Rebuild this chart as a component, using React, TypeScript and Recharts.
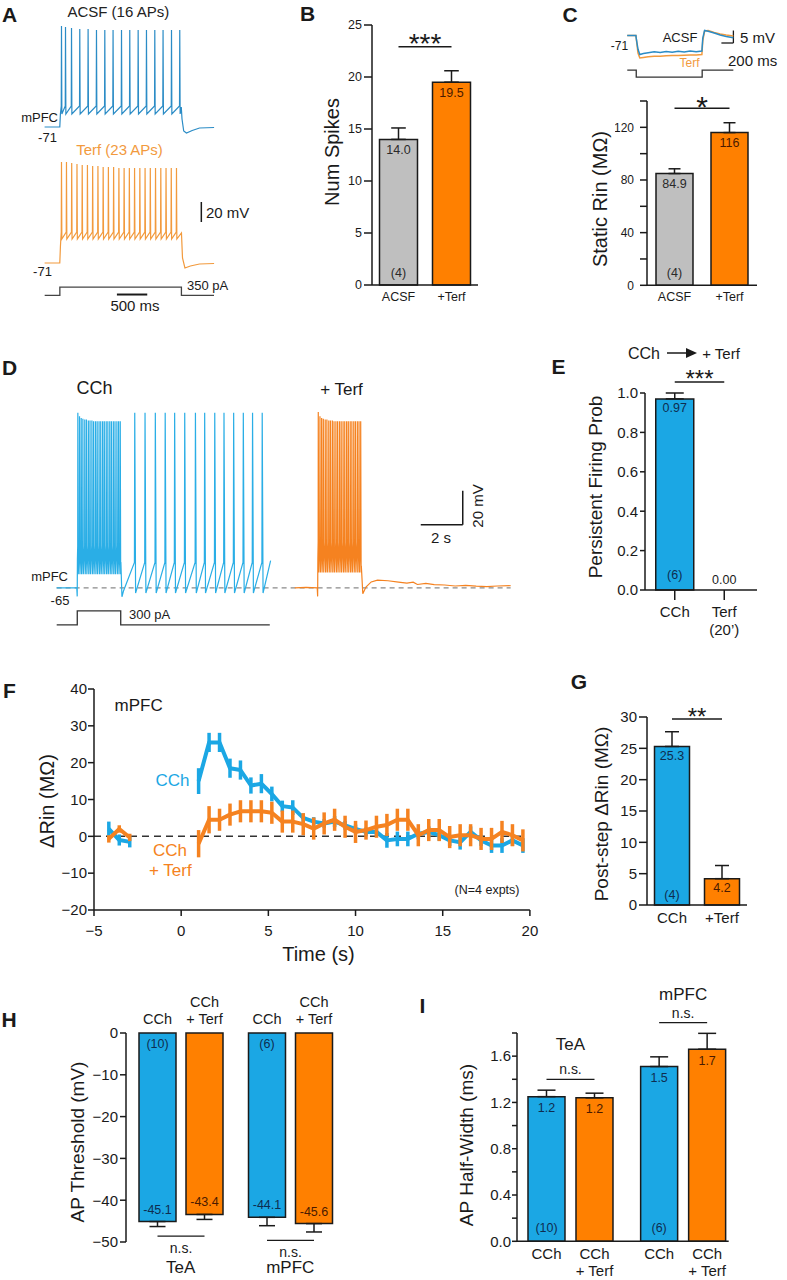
import React from 'react';
import { BarChart, Bar, LineChart, Line, XAxis, YAxis, ErrorBar, Cell, LabelList, ReferenceLine, ReferenceDot } from 'recharts';

const FONT = 'Arial, "Liberation Sans", Helvetica, sans-serif';
const INK = '#1a1a1a';
const GRAY = '#bfbfbf';
const ORANGE = '#ff8000';
const BLUE = '#1ba7e4';
const A_BLUE = '#2b8cc6';
const A_ORANGE = '#f29a3d';
const D_BLUE = '#2aaee6';
const D_ORANGE = '#f58220';
const TXT_BLUE = '#0e2d50';
const TXT_ORANGE = '#4a1a00';
const TXT_GRAY = '#2a2a2a';

// ---------------- Panel A data ----------------
const A_BLUE_SPIKES = [28, 94, 193, 329, 466, 604, 741, 877, 1016, 1152, 1290, 1427, 1564, 1700, 1839, 1975];
const A_BLUE_PEAKS = [30, 29, 28, 27, 27, 26, 26, 26, 26, 26, 26, 26, 26, 26, 26, 26];
const A_ORANGE_SPIKES = [28, 110, 196, 283, 369, 455, 541, 628, 714, 800, 886, 973, 1059, 1145, 1231, 1318, 1404, 1490, 1576, 1663, 1749, 1835, 1921];
const A_ORANGE_PEAKS = [30, 30, 29, 28, 27, 27, 26, 26, 25, 25, 25, 24, 24, 24, 24, 24, 24, 24, 24, 24, 24, 24, 24];
const A_BLUE_PRE = [{ t: -250, v: -71 }, { t: 0, v: -71 }, { t: 10, v: -58 }];
const A_BLUE_POST = [{ t: 2000, v: -51 }, { t: 2012, v: -63 }, { t: 2040, v: -75 }, { t: 2085, v: -77 }, { t: 2180, v: -74.5 }, { t: 2300, v: -72 }, { t: 2540, v: -71.5 }];
const A_ORANGE_PRE = [{ t: -250, v: -71 }, { t: 0, v: -71 }, { t: 10, v: -55 }];
const A_ORANGE_POST = [{ t: 2003, v: -41 }, { t: 2020, v: -66 }, { t: 2060, v: -76 }, { t: 2150, v: -74 }, { t: 2300, v: -72 }, { t: 2540, v: -71.5 }];
const A_CURRENT = [{ t: -250, i: 0 }, { t: 0, i: 0 }, { t: 0, i: 350 }, { t: 2003, i: 350 }, { t: 2003, i: 0 }, { t: 2540, i: 0 }];

// ---------------- Panel B data ----------------
const B_CATS = ['ACSF', '+Terf'];
const B_VALS = [14.0, 19.5];
const B_ERRS = [1.1, 1.1];
const B_LABELS = ['14.0', '19.5'];
const B_N = ['(4)', null];
const B_SIG = 22.9;

// ---------------- Panel C data ----------------
const C_CATS = ['ACSF', '+Terf'];
const C_VALS = [84.9, 116];
const C_ERRS = [3.6, 7.5];
const C_LABELS = ['84.9', '116'];
const C_N = ['(4)', null];
const C_SIG = 134.4;
const C_BLUE = [{ t: -150, v: -71 }, { t: -5, v: -71 }, { t: 0, v: -72 }, { t: 30, v: -76.5 }, { t: 60, v: -78.6 }, { t: 120, v: -78.2 }, { t: 200, v: -77.9 }, { t: 300, v: -77.5 }, { t: 400, v: -77.8 }, { t: 500, v: -77.4 }, { t: 600, v: -77.7 }, { t: 700, v: -77.3 }, { t: 800, v: -77.6 }, { t: 900, v: -77.2 }, { t: 1000, v: -77.5 }, { t: 1095, v: -77.2 }, { t: 1110, v: -72 }, { t: 1140, v: -69 }, { t: 1200, v: -69.3 }, { t: 1300, v: -70 }, { t: 1400, v: -70.8 }, { t: 1500, v: -71.4 }, { t: 1620, v: -71.9 }];
const C_ORANGE = [{ t: -150, v: -71 }, { t: -5, v: -71 }, { t: 0, v: -72 }, { t: 30, v: -78 }, { t: 60, v: -80 }, { t: 120, v: -79.8 }, { t: 200, v: -79.5 }, { t: 300, v: -79.3 }, { t: 400, v: -79.3 }, { t: 500, v: -79.1 }, { t: 600, v: -79.0 }, { t: 700, v: -79.0 }, { t: 800, v: -78.9 }, { t: 900, v: -78.8 }, { t: 1000, v: -78.8 }, { t: 1095, v: -78.6 }, { t: 1110, v: -73 }, { t: 1140, v: -69.2 }, { t: 1200, v: -69 }, { t: 1300, v: -69.8 }, { t: 1400, v: -70.4 }, { t: 1500, v: -70.8 }, { t: 1620, v: -71.2 }];
const C_CURRENT = [{ t: -150, i: 0 }, { t: 0, i: 0 }, { t: 0, i: -100 }, { t: 1100, i: -100 }, { t: 1100, i: 0 }, { t: 1620, i: 0 }];

// ---------------- Panel D data ----------------
const D_BLUE_PRE = [{ t: -0.98, v: -65 }, { t: -0.02, v: -65 }, { t: 0, v: -70 }, { t: 0.01, v: -48 }];
const D_BLUE_BURST = [0.03, 0.11, 0.19, 0.27, 0.36, 0.44, 0.53, 0.61, 0.70, 0.78, 0.87, 0.95, 1.04, 1.12, 1.21, 1.29, 1.38, 1.46, 1.55, 1.63, 1.72, 1.80, 1.89, 1.97, 2.05];
const D_BURST_PEAKS = [38, 36, 35, 34.5, 34, 34, 33.5, 33.5, 33.5, 33, 33, 33, 33, 33, 33, 33, 33, 33, 33, 33, 33, 33, 33, 33, 33];
const D_BLUE_MID = [{ t: 2.08, v: -50 }, { t: 2.13, v: -70.2 }, { t: 2.2, v: -67 }];
const D_BLUE_PERSIST = [2.74, 3.23, 3.72, 4.19, 4.64, 5.12, 5.63, 6.07, 6.55, 6.99, 7.45, 7.91, 8.35, 8.81];
const D_PERSIST_PEAKS = [38, 38, 38, 38, 38, 38, 38, 38, 38, 38, 38, 38, 38, 38];
const D_BLUE_END = [{ t: 9.21, v: -49 }];
const D_ORANGE_PRE = [{ t: 10.36, v: -65 }, { t: 10.9, v: -64.7 }, { t: 11.43, v: -65 }, { t: 11.45, v: -70 }, { t: 11.46, v: -48 }];
const D_ORANGE_BURST = [11.48, 11.56, 11.64, 11.72, 11.81, 11.89, 11.98, 12.06, 12.15, 12.23, 12.32, 12.40, 12.49, 12.57, 12.66, 12.74, 12.83, 12.91, 13.00, 13.08, 13.17, 13.25, 13.34, 13.42, 13.50];
const D_ORANGE_PEAKS = [38.5, 36, 35, 34.5, 34, 34, 33.5, 33.5, 33.5, 33, 33, 33, 33, 33, 33, 33, 33, 33, 33, 33, 33, 33, 33, 33, 33];
const D_ORANGE_POST = [{ t: 13.53, v: -52 }, { t: 13.6, v: -68.5 }, { t: 13.75, v: -64.5 }, { t: 14.0, v: -61.5 }, { t: 14.3, v: -60.4 }, { t: 14.8, v: -60.8 }, { t: 15.3, v: -61.6 }, { t: 15.7, v: -62.2 }, { t: 16.0, v: -61.6 }, { t: 16.2, v: -63 }, { t: 16.6, v: -62.4 }, { t: 17.0, v: -63.1 }, { t: 17.5, v: -63.3 }, { t: 18.0, v: -63.9 }, { t: 18.5, v: -63.5 }, { t: 19.0, v: -64 }, { t: 19.5, v: -64.3 }, { t: 20.0, v: -63.9 }, { t: 20.64, v: -63.7 }];
const D_CURRENT = [{ t: -0.98, i: 0 }, { t: 0, i: 0 }, { t: 0, i: 300 }, { t: 2.07, i: 300 }, { t: 2.07, i: 0 }, { t: 9.17, i: 0 }];

// ---------------- Panel E data ----------------
const E_CATS = ['CCh', 'Terf'];
const E_TICK_LABELS = [['CCh'], ['Terf', '(20\u2019)']];
const E_VALS = [0.97, 0];
const E_ERRS = [0.03, 0];
const E_LABELS = ['0.97', '0.00'];
const E_N = ['(6)', null];
const E_SIG = 1.056;

// ---------------- Panel F data ----------------
const F_T_PRE = [-4.15, -3.55, -2.95];
const F_BLUE_PRE = [2, -1, -1.5];
const F_BLUE_PRE_ERR = [2, 1.5, 1.5];
const F_ORANGE_PRE = [-0.7, 2, -0.3];
const F_ORANGE_PRE_ERR = [1, 1, 1];
const F_T = [1.0, 1.6, 2.2, 2.8, 3.4, 4.0, 4.6, 5.2, 5.8, 6.4, 7.0, 7.6, 8.2, 8.8, 9.4, 10.0, 10.6, 11.2, 11.8, 12.4, 13.0, 13.6, 14.2, 14.8, 15.4, 16.0, 16.6, 17.2, 17.8, 18.4, 19.0, 19.6];
const F_BLUE = [15, 25.5, 25.5, 18.5, 18, 13.8, 14.3, 11.5, 8.2, 7.8, 5, 4, 3.5, 4, 3, 2, 1.2, 1.2, -1.1, -0.7, -0.7, 0.7, 1.2, 0.3, -1.1, -1.6, 1.2, -1.1, -2.5, -2.5, -1.1, -2.5];
const F_BLUE_ERR = [3.5, 2.6, 2.6, 2.6, 2.6, 2.2, 2.6, 2, 1.5, 2, 1.2, 1.2, 1.2, 1.5, 1.2, 1.2, 1.2, 1.2, 2, 2, 2, 1.5, 1.5, 1.5, 1.5, 2, 1.5, 1.5, 2, 2, 1.5, 2];
const F_ORANGE = [-2, 4.5, 4.5, 5.9, 6.8, 6.8, 6.8, 6.4, 4, 4, 3.3, 2.1, 3.5, 4.5, 2.6, 1.2, 1.7, 2.6, 3.1, 4.5, 4.5, 0.3, 1.7, 1.7, -0.2, 0.3, 0.3, -0.7, -0.7, 1.2, 0.3, -1.1];
const F_ORANGE_ERR = [3.7, 3.7, 3, 3, 3, 3, 3, 3, 3, 3, 3, 3, 3, 3, 3, 3, 2.6, 3, 3, 3, 3, 3, 3, 3, 3, 3, 3, 3, 3, 3, 3, 3];

// ---------------- Panel G data ----------------
const G_CATS = ['CCh', '+Terf'];
const G_VALS = [25.3, 4.2];
const G_ERRS = [2.35, 2.1];
const G_LABELS = ['25.3', '4.2'];
const G_N = ['(4)', null];
const G_SIG = 29.7;

// ---------------- Panel H data ----------------
const H_GROUPS = ['TeA', 'mPFC'];
const H_CCH = [-45.1, -44.1];
const H_CCH_ERR = [1.2, 2.0];
const H_TERF = [-43.4, -45.6];
const H_TERF_ERR = [1.2, 2.0];
const H_CCH_LABELS = ['-45.1', '-44.1'];
const H_TERF_LABELS = ['-43.4', '-45.6'];
const H_N = ['(10)', '(6)'];
const H_SIG = [-48.6, -49.6];

// ---------------- Panel I data ----------------
const I_GROUPS = ['TeA', 'mPFC'];
const I_CCH = [1.25, 1.51];
const I_CCH_ERR = [0.056, 0.084];
const I_TERF = [1.24, 1.66];
const I_TERF_ERR = [0.04, 0.137];
const I_CCH_LABELS = ['1.2', '1.5'];
const I_TERF_LABELS = ['1.2', '1.7'];
const I_N = ['(10)', '(6)'];
const I_SIG = [1.40, 1.89];
const I_GROUP_LABEL_Y = [1.70, 2.13];
const I_TICKS = [0, 0.2, 0.4, 0.6, 0.8, 1.0, 1.2, 1.4, 1.6, 1.8];

const CAT_CCH = 'CCh';
const CAT_TERF = ['CCh', '+ Terf'];
const NS = 'n.s.';

// ---------------- helpers ----------------
type Pt = { t: number; v: number };
function spikeTrain(times: number[], peaks: number[], thr: number, ahp: number, rise: number, fall: number): Pt[] {
  const pts: Pt[] = [];
  times.forEach((t, k) => {
    pts.push({ t: t - rise, v: thr });
    pts.push({ t, v: peaks[k] });
    pts.push({ t: t + fall, v: ahp });
  });
  return pts;
}

const aBlue = [...A_BLUE_PRE, ...spikeTrain(A_BLUE_SPIKES, A_BLUE_PEAKS, -50, -58, 4, 6), ...A_BLUE_POST];
const aOrange = [...A_ORANGE_PRE, ...spikeTrain(A_ORANGE_SPIKES, A_ORANGE_PEAKS, -40, -47, 4, 6), ...A_ORANGE_POST];
const dBlue = [...D_BLUE_PRE, ...spikeTrain(D_BLUE_BURST, D_BURST_PEAKS, -40, -57, 0.006, 0.02), ...D_BLUE_MID, ...spikeTrain(D_BLUE_PERSIST, D_PERSIST_PEAKS, -50, -68, 0.015, 0.04), ...D_BLUE_END];
const dOrange = [...D_ORANGE_PRE, ...spikeTrain(D_ORANGE_BURST, D_ORANGE_PEAKS, -38, -56, 0.006, 0.02), ...D_ORANGE_POST];

const bData = B_CATS.map((name, k) => ({ name, v: B_VALS[k], err: [0, B_ERRS[k]] }));
const cData = C_CATS.map((name, k) => ({ name, v: C_VALS[k], err: [0, C_ERRS[k]] }));
const eData = E_CATS.map((name, k) => ({ name, v: E_VALS[k], err: [0, E_ERRS[k]] }));
const gData = G_CATS.map((name, k) => ({ name, v: G_VALS[k], err: [0, G_ERRS[k]] }));
const hData = H_GROUPS.map((group, k) => ({ group, cch: H_CCH[k], cchErr: [H_CCH_ERR[k], 0], terf: H_TERF[k], terfErr: [H_TERF_ERR[k], 0] }));
const iData = I_GROUPS.map((group, k) => ({ group, cch: I_CCH[k], cchErr: [0, I_CCH_ERR[k]], terf: I_TERF[k], terfErr: [0, I_TERF_ERR[k]] }));
const fBluePre = F_T_PRE.map((t, k) => ({ t, v: F_BLUE_PRE[k], e: F_BLUE_PRE_ERR[k] }));
const fOrangePre = F_T_PRE.map((t, k) => ({ t, v: F_ORANGE_PRE[k], e: F_ORANGE_PRE_ERR[k] }));
const fBlue = F_T.map((t, k) => ({ t, v: F_BLUE[k], e: F_BLUE_ERR[k] }));
const fOrange = F_T.map((t, k) => ({ t, v: F_ORANGE[k], e: F_ORANGE_ERR[k] }));

const axisLine = { stroke: INK, strokeWidth: 1.5 };
const minus = (v: number) => (v < 0 ? '\u2212' + Math.abs(v) : String(v));
const M0 = { top: 0, right: 0, bottom: 0, left: 0 };

function Pos({ x, y, children }: any) {
  return <div style={{ position: 'absolute', left: x, top: y }}>{children}</div>;
}

const T = ({ x, y, s = 15, a = 'middle', c = INK, w = 400, r = 0, children }: any) => (
  <text x={x} y={y} fontSize={s} textAnchor={a} fill={c} fontWeight={w} dominantBaseline="central"
    transform={r ? `rotate(${r} ${x} ${y})` : undefined}>{children}</text>
);

function geom(props: any, vals: number[]) {
  const vb = props.viewBox && props.viewBox.width != null ? props.viewBox : props;
  let k = props.index;
  if (k == null) k = vals.indexOf(props.value);
  const { x, y, width, height } = vb;
  if (x == null || k == null || k < 0) return null;
  const top = Math.min(y, y + height);
  const bot = Math.max(y, y + height);
  const neg = vals[k] < 0;
  const zero = neg ? top : bot;
  const ppu = vals[k] !== 0 ? Math.abs(height) / Math.abs(vals[k]) : 0;
  return { k, x, width, top, bot, neg, zero, ppu, cx: x + width / 2 };
}

function barLabels(vals: number[], labels: (string | null)[], ns: (string | null)[], colors: string[], vOff: number, nOff: number, size = 12.5) {
  return (props: any) => {
    const g = geom(props, vals);
    if (!g) return null;
    const { k, top, bot, neg, cx } = g;
    if (vals[k] === 0) return null;
    let vy: number, ny: number;
    if (neg) { vy = bot - vOff; ny = top + nOff; }
    else { vy = top + vOff; ny = bot - nOff; }
    return (
      <g>
        {labels[k] && <text x={cx} y={vy} textAnchor="middle" dominantBaseline="central" fontSize={size} fill={colors[k]}>{labels[k]}</text>}
        {ns[k] && <text x={cx} y={ny} textAnchor="middle" dominantBaseline="central" fontSize={size} fill={colors[k]}>{ns[k]}</text>}
      </g>
    );
  };
}

const H_GAP = 10;
const I_GAP = 11;

const hCchContent = (props: any) => {
  const g = geom(props, H_CCH);
  if (!g) return null;
  const { k, top, bot, cx, width, zero, ppu } = g;
  const sy = zero - H_SIG[k] * ppu;
  const cx2 = cx + width + H_GAP;
  return (
    <g>
      <text x={cx} y={bot - 12} textAnchor="middle" dominantBaseline="central" fontSize={12.5} fill={TXT_BLUE}>{H_CCH_LABELS[k]}</text>
      <text x={cx} y={top + 10.5} textAnchor="middle" dominantBaseline="central" fontSize={12.5} fill={TXT_BLUE}>{H_N[k]}</text>
      <text x={cx} y={top - 14} textAnchor="middle" dominantBaseline="central" fontSize={14.5} fill={INK}>{CAT_CCH}</text>
      <line x1={cx} x2={cx2} y1={sy} y2={sy} stroke={INK} strokeWidth={1.3} />
      <text x={(cx + cx2) / 2} y={sy + 12} textAnchor="middle" dominantBaseline="central" fontSize={14} fill={INK}>{NS}</text>
    </g>
  );
};
const hTerfContent = (props: any) => {
  const g = geom(props, H_TERF);
  if (!g) return null;
  const { k, top, bot, cx } = g;
  return (
    <g>
      <text x={cx} y={bot - 12} textAnchor="middle" dominantBaseline="central" fontSize={12.5} fill={TXT_ORANGE}>{H_TERF_LABELS[k]}</text>
      <text x={cx} y={top - 31} textAnchor="middle" dominantBaseline="central" fontSize={14.5} fill={INK}>{CAT_TERF[0]}</text>
      <text x={cx} y={top - 14} textAnchor="middle" dominantBaseline="central" fontSize={14.5} fill={INK}>{CAT_TERF[1]}</text>
    </g>
  );
};
const iCchContent = (props: any) => {
  const g = geom(props, I_CCH);
  if (!g) return null;
  const { k, top, bot, cx, width, zero, ppu } = g;
  const sy = zero - I_SIG[k] * ppu;
  const gy = zero - I_GROUP_LABEL_Y[k] * ppu;
  const cx2 = cx + width + I_GAP;
  return (
    <g>
      <text x={cx} y={top + 11.5} textAnchor="middle" dominantBaseline="central" fontSize={12.5} fill={TXT_BLUE}>{I_CCH_LABELS[k]}</text>
      <text x={cx} y={bot - 13} textAnchor="middle" dominantBaseline="central" fontSize={12.5} fill={TXT_BLUE}>{I_N[k]}</text>
      <text x={cx} y={bot + 12} textAnchor="middle" dominantBaseline="central" fontSize={15} fill={INK}>{CAT_CCH}</text>
      <line x1={cx} x2={cx2} y1={sy} y2={sy} stroke={INK} strokeWidth={1.3} />
      <text x={(cx + cx2) / 2} y={sy - 10} textAnchor="middle" dominantBaseline="central" fontSize={14} fill={INK}>{NS}</text>
      <text x={(cx + cx2) / 2} y={gy} textAnchor="middle" dominantBaseline="central" fontSize={17} fill={INK}>{I_GROUPS[k]}</text>
    </g>
  );
};
const iTerfContent = (props: any) => {
  const g = geom(props, I_TERF);
  if (!g) return null;
  const { k, top, bot, cx } = g;
  return (
    <g>
      <text x={cx} y={top + 11.5} textAnchor="middle" dominantBaseline="central" fontSize={12.5} fill={TXT_ORANGE}>{I_TERF_LABELS[k]}</text>
      <text x={cx} y={bot + 12} textAnchor="middle" dominantBaseline="central" fontSize={15} fill={INK}>{CAT_TERF[0]}</text>
      <text x={cx} y={bot + 29} textAnchor="middle" dominantBaseline="central" fontSize={15} fill={INK}>{CAT_TERF[1]}</text>
    </g>
  );
};

const ETick = (p: any) => {
  const k = E_CATS.indexOf(p.payload && p.payload.value);
  const lines = k >= 0 ? E_TICK_LABELS[k] : [String(p.payload && p.payload.value)];
  return (
    <text x={p.x} y={p.y} textAnchor="middle" fontSize={15} fill={INK}>
      {lines.map((l, j) => <tspan key={j} x={p.x} dy={j === 0 ? 15.4 : 18}>{l}</tspan>)}
    </text>
  );
};

function TwoBar({ x, y, w, h, data, cats, colors, labelColors, labels, ns, vals, domain, ticks, fmt, yW, xH, mTop, tickSize, tickMargin, tickFont, xFont, gap, capW, sig, sigText, sigSize, sigOffset, vOff, nOff, xTick, xTickSize, xPad }: any) {
  return (
    <Pos x={x} y={y}>
      <BarChart width={w} height={h} data={data} margin={{ top: mTop, right: 5, bottom: 0, left: 0 }} barCategoryGap={gap}>
        <XAxis dataKey="name" axisLine={axisLine} tickLine={xTickSize ? axisLine : false} tickSize={xTickSize || 5} tickMargin={2}
          tick={xTick || { fill: INK, fontSize: xFont }} height={xH} interval={0} padding={xPad || { left: 0, right: 0 }} />
        <YAxis type="number" domain={domain} ticks={ticks} width={yW} tickSize={tickSize} tickMargin={tickMargin} axisLine={axisLine}
          tickLine={axisLine} tick={{ fill: INK, fontSize: tickFont }} tickFormatter={fmt} interval={0} />
        <ReferenceLine segment={[{ x: cats[0], y: sig }, { x: cats[1], y: sig }]} stroke={INK} strokeWidth={1.5} ifOverflow="visible"
          label={{ value: sigText, position: 'top', offset: sigOffset, fontSize: sigSize, fill: INK }} />
        {vals.map((v: number, k: number) => (v === 0 && labels[k] ? (
          <ReferenceDot key={'z' + k} x={cats[k]} y={0} r={0.01} fill="none" stroke="none" ifOverflow="visible"
            label={{ value: labels[k], position: 'top', offset: 5.5, fontSize: 12.5, fill: labelColors[k] }} />
        ) : null))}
        <Bar dataKey="v" stroke={INK} strokeWidth={1.5} isAnimationActive={false}>
          {cats.map((c: string, k: number) => <Cell key={c} fill={colors[k]} />)}
          <ErrorBar dataKey="err" width={capW} stroke={INK} strokeWidth={1.5} direction="y" isAnimationActive={false} />
          <LabelList dataKey="v" content={barLabels(vals, labels, ns, labelColors, vOff, nOff)} />
        </Bar>
      </BarChart>
    </Pos>
  );
}

export default function App() {
  return (
    <div style={{ position: 'absolute', left: 0, top: 0, width: 787, height: 1280, background: '#fff', fontFamily: FONT, overflow: 'hidden' }}>
      {/* ---------- A traces ---------- */}
      <Pos x={44.2} y={22}>
        <LineChart width={171.3} height={114} margin={M0}>
          <XAxis type="number" dataKey="t" domain={[-260, 2560]} hide />
          <YAxis type="number" domain={[-80, 34]} hide />
          <Line data={aBlue} dataKey="v" stroke={A_BLUE} strokeWidth={1.2} dot={false} isAnimationActive={false} />
        </LineChart>
      </Pos>
      <Pos x={44.2} y={158}>
        <LineChart width={171.3} height={114} margin={M0}>
          <XAxis type="number" dataKey="t" domain={[-260, 2560]} hide />
          <YAxis type="number" domain={[-80, 34]} hide />
          <ReferenceLine segment={[{ x: 2330, y: -10 }, { x: 2330, y: -30 }]} stroke={INK} strokeWidth={1.5} />
          <Line data={aOrange} dataKey="v" stroke={A_ORANGE} strokeWidth={1.2} dot={false} isAnimationActive={false} />
        </LineChart>
      </Pos>
      <Pos x={44.2} y={285.5}>
        <LineChart width={171.3} height={10.9} margin={M0}>
          <XAxis type="number" dataKey="t" domain={[-260, 2560]} hide />
          <YAxis type="number" domain={[-60, 400]} hide />
          <ReferenceLine segment={[{ x: 940, y: 40 }, { x: 1440, y: 40 }]} stroke={INK} strokeWidth={2} />
          <Line data={A_CURRENT} dataKey="i" stroke="#444" strokeWidth={1.3} dot={false} isAnimationActive={false} />
        </LineChart>
      </Pos>

      {/* ---------- B ---------- */}
      <TwoBar x={340} y={15} w={143} h={295} data={bData} cats={B_CATS} colors={[GRAY, ORANGE]} labelColors={[TXT_GRAY, TXT_ORANGE]}
        labels={B_LABELS} ns={B_N} vals={B_VALS} domain={[0, 25]} ticks={[0, 5, 10, 15, 20, 25]} yW={32} xH={25} mTop={10}
        tickSize={8} tickMargin={2} tickFont={12.5} xFont={12.5} gap={7.5} capW={7.3} sig={B_SIG} sigText="***" sigSize={28} sigOffset={-6}
        vOff={11} nOff={12} />

      {/* ---------- C inset ---------- */}
      <Pos x={625.8} y={22.5}>
        <LineChart width={113.4} height={40} margin={M0}>
          <XAxis type="number" dataKey="t" domain={[-170, 1720]} hide />
          <YAxis type="number" domain={[-82, -66]} hide />
          <ReferenceLine segment={[{ x: 1620, y: -69 }, { x: 1620, y: -74 }]} stroke={INK} strokeWidth={1.3} />
          <ReferenceLine segment={[{ x: 1420, y: -74 }, { x: 1620, y: -74 }]} stroke={INK} strokeWidth={1.3} />
          <Line data={C_ORANGE} dataKey="v" stroke={A_ORANGE} strokeWidth={1.5} dot={false} isAnimationActive={false} />
          <Line data={C_BLUE} dataKey="v" stroke={A_BLUE} strokeWidth={1.5} dot={false} isAnimationActive={false} />
        </LineChart>
      </Pos>
      <Pos x={625.8} y={67.9}>
        <LineChart width={113.4} height={11.2} margin={M0}>
          <XAxis type="number" dataKey="t" domain={[-170, 1720]} hide />
          <YAxis type="number" domain={[-130, 30]} hide />
          <Line data={C_CURRENT} dataKey="i" stroke="#333" strokeWidth={1.3} dot={false} isAnimationActive={false} />
        </LineChart>
      </Pos>

      {/* ---------- C bars ---------- */}
      <TwoBar x={615} y={90.7} w={147} h={219.3} data={cData} cats={C_CATS} colors={[GRAY, ORANGE]} labelColors={[TXT_GRAY, TXT_ORANGE]}
        labels={C_LABELS} ns={C_N} vals={C_VALS} domain={[0, 140]} ticks={[0, 20, 40, 60, 80, 100, 120, 140]}
        fmt={(v: number) => (v % 40 === 0 ? String(v) : '')} yW={32} xH={25} mTop={10}
        tickSize={7} tickMargin={6} tickFont={12} xFont={12.5} gap={9} capW={6} sig={C_SIG} sigText="*" sigSize={30} sigOffset={-8.5}
        vOff={10.5} nOff={12} />

      {/* ---------- D traces ---------- */}
      <Pos x={52.3} y={406.1}>
        <LineChart width={462} height={198.9} margin={M0}>
          <XAxis type="number" dataKey="t" domain={[-1.2, 20.8]} hide />
          <YAxis type="number" domain={[-75, 42]} hide />
          <ReferenceLine segment={[{ x: -0.98, y: -65 }, { x: 20.64, y: -65 }]} stroke="#8a8a8a" strokeWidth={1.3} strokeDasharray="5 4" />
          <ReferenceLine segment={[{ x: 16.36, y: -27.9 }, { x: 18.36, y: -27.9 }]} stroke={INK} strokeWidth={1.5} />
          <ReferenceLine segment={[{ x: 18.36, y: -27.9 }, { x: 18.36, y: -7.9 }]} stroke={INK} strokeWidth={1.5} />
          <Line data={dBlue} dataKey="v" stroke={D_BLUE} strokeWidth={1.2} dot={false} isAnimationActive={false} />
          <Line data={dOrange} dataKey="v" stroke={D_ORANGE} strokeWidth={1.2} dot={false} isAnimationActive={false} />
        </LineChart>
      </Pos>
      <Pos x={52.3} y={608.2}>
        <LineChart width={462} height={19.6} margin={M0}>
          <XAxis type="number" dataKey="t" domain={[-1.2, 20.8]} hide />
          <YAxis type="number" domain={[-60, 360]} hide />
          <Line data={D_CURRENT} dataKey="i" stroke="#333" strokeWidth={1.3} dot={false} isAnimationActive={false} />
        </LineChart>
      </Pos>

      {/* ---------- E ---------- */}
      <TwoBar x={607} y={363} w={155} h={275} data={eData} cats={E_CATS} colors={[BLUE, ORANGE]} labelColors={[TXT_BLUE, INK]}
        labels={E_LABELS} ns={E_N} vals={E_VALS} domain={[0, 1]} ticks={[0, 0.2, 0.4, 0.6, 0.8, 1.0]}
        fmt={(v: number) => v.toFixed(1)} yW={38} xH={48} mTop={30}
        tickSize={5} tickMargin={2} tickFont={15} xFont={15} gap={5.75} capW={9} sig={E_SIG} sigText="***" sigSize={24} sigOffset={-5}
        vOff={9.5} nOff={15} xTick={<ETick />} xTickSize={10} xPad={{ left: 5, right: 8 }} />

      {/* ---------- F ---------- */}
      <Pos x={53.7} y={681}>
        <LineChart width={487.9} height={259} margin={{ top: 8, right: 12, bottom: 0, left: 0 }}>
          <XAxis type="number" dataKey="t" domain={[-5, 20]} ticks={[-5, 0, 5, 10, 15, 20]} height={30} tickSize={6} tickMargin={9}
            axisLine={axisLine} tickLine={axisLine} tick={{ fill: INK, fontSize: 15 }} tickFormatter={minus} interval={0} />
          <YAxis type="number" domain={[-20, 40]} ticks={[-20, -10, 0, 10, 20, 30, 40]} width={40} tickSize={6} tickMargin={1}
            axisLine={axisLine} tickLine={axisLine} tick={{ fill: INK, fontSize: 15 }} tickFormatter={minus} interval={0} />
          <ReferenceLine segment={[{ x: -5, y: 0 }, { x: 19.7, y: 0 }]} stroke="#333" strokeWidth={1.5} strokeDasharray="7 5" />
          <Line data={fBluePre} dataKey="v" stroke={BLUE} strokeWidth={4} strokeLinejoin="round" dot={false} isAnimationActive={false}>
            <ErrorBar dataKey="e" direction="y" width={0} stroke={BLUE} strokeWidth={3.5} />
          </Line>
          <Line data={fBlue} dataKey="v" stroke={BLUE} strokeWidth={4} strokeLinejoin="round" dot={false} isAnimationActive={false}>
            <ErrorBar dataKey="e" direction="y" width={0} stroke={BLUE} strokeWidth={3.5} />
          </Line>
          <Line data={fOrangePre} dataKey="v" stroke={D_ORANGE} strokeWidth={4} strokeLinejoin="round" dot={false} isAnimationActive={false}>
            <ErrorBar dataKey="e" direction="y" width={0} stroke={D_ORANGE} strokeWidth={3.5} />
          </Line>
          <Line data={fOrange} dataKey="v" stroke={D_ORANGE} strokeWidth={4} strokeLinejoin="round" dot={false} isAnimationActive={false}>
            <ErrorBar dataKey="e" direction="y" width={0} stroke={D_ORANGE} strokeWidth={3.5} />
          </Line>
        </LineChart>
      </Pos>

      {/* ---------- G ---------- */}
      <TwoBar x={607} y={687} w={145} h={248} data={gData} cats={G_CATS} colors={[BLUE, ORANGE]} labelColors={[TXT_BLUE, TXT_ORANGE]}
        labels={G_LABELS} ns={G_N} vals={G_VALS} domain={[0, 30]} ticks={[0, 5, 10, 15, 20, 25, 30]} yW={40} xH={30} mTop={30}
        tickSize={8} tickMargin={2} tickFont={15} xFont={15} gap={7.5} capW={7} sig={G_SIG} sigText="**" sigSize={24} sigOffset={-6.5}
        vOff={9.5} nOff={10} />

      {/* ---------- H ---------- */}
      <Pos x={81} y={990.7}>
        <BarChart width={269} height={291} data={hData} margin={{ top: 42, right: 5, bottom: 0, left: 0 }} barSize={37} barGap={H_GAP}>
          <XAxis xAxisId={0} dataKey="group" orientation="top" height={0} tick={false} tickLine={false} axisLine={axisLine} />
          <XAxis xAxisId="grp" dataKey="group" orientation="bottom" height={40} axisLine={false} tickLine={false} tickSize={0}
            tickMargin={19} tick={{ fill: INK, fontSize: 17 }} interval={0} />
          <YAxis type="number" domain={[-50, 0]} ticks={[-50, -40, -30, -20, -10, 0]} width={45} tickSize={6} tickMargin={2}
            axisLine={axisLine} tickLine={axisLine} tick={{ fill: INK, fontSize: 15 }} tickFormatter={minus} interval={0} />
          <Bar dataKey="cch" fill={BLUE} stroke={INK} strokeWidth={1.5} isAnimationActive={false}>
            <ErrorBar dataKey="cchErr" width={8} stroke={INK} strokeWidth={1.5} direction="y" isAnimationActive={false} />
            <LabelList dataKey="cch" content={hCchContent} />
          </Bar>
          <Bar dataKey="terf" fill={ORANGE} stroke={INK} strokeWidth={1.5} isAnimationActive={false}>
            <ErrorBar dataKey="terfErr" width={8} stroke={INK} strokeWidth={1.5} direction="y" isAnimationActive={false} />
            <LabelList dataKey="terf" content={hTerfContent} />
          </Bar>
        </BarChart>
      </Pos>

      {/* ---------- I ---------- */}
      <Pos x={475.3} y={980.7}>
        <BarChart width={273.7} height={305.3} data={iData} margin={{ top: 52, right: 20, bottom: 0, left: 0 }} barSize={37} barGap={I_GAP}>
          <XAxis dataKey="group" height={45} tick={false} tickLine={false} axisLine={axisLine} padding={{ left: -3, right: -10.6 }} />
          <YAxis type="number" domain={[0, 1.8]} ticks={I_TICKS} width={42} tickSize={5} tickMargin={1}
            axisLine={axisLine} tickLine={axisLine} tick={{ fill: INK, fontSize: 15 }}
            tickFormatter={(v: number) => (Math.round(v * 10) % 4 === 0 ? v.toFixed(1) : '')} interval={0} />
          <Bar dataKey="cch" fill={BLUE} stroke={INK} strokeWidth={1.5} isAnimationActive={false}>
            <ErrorBar dataKey="cchErr" width={9} stroke={INK} strokeWidth={1.5} direction="y" isAnimationActive={false} />
            <LabelList dataKey="cch" content={iCchContent} />
          </Bar>
          <Bar dataKey="terf" fill={ORANGE} stroke={INK} strokeWidth={1.5} isAnimationActive={false}>
            <ErrorBar dataKey="terfErr" width={9} stroke={INK} strokeWidth={1.5} direction="y" isAnimationActive={false} />
            <LabelList dataKey="terf" content={iTerfContent} />
          </Bar>
        </BarChart>
      </Pos>

      {/* ---------- text overlay ---------- */}
      <svg width={787} height={1280} style={{ position: 'absolute', left: 0, top: 0, pointerEvents: 'none' }}>
        <T x={9.5} y={14} s={21} w={700}>A</T>
        <T x={307.5} y={13.5} s={21} w={700}>B</T>
        <T x={570} y={14.5} s={21} w={700}>C</T>
        <T x={9.5} y={367} s={21} w={700}>D</T>
        <T x={558.5} y={366} s={21} w={700}>E</T>
        <T x={9.5} y={690} s={21} w={700}>F</T>
        <T x={579} y={681.5} s={21} w={700}>G</T>
        <T x={9} y={1019.5} s={21} w={700}>H</T>
        <T x={422.5} y={1005.5} s={21} w={700}>I</T>

        {/* A */}
        <T x={118.3} y={11.7} s={15} c="#222">ACSF (16 APs)</T>
        <T x={58} y={117} s={13} a="end">mPFC</T>
        <T x={47.5} y={137} s={13}>-71</T>
        <T x={119.5} y={149} s={15} c={A_ORANGE}>Terf (23 APs)</T>
        <T x={42.5} y={271} s={13}>-71</T>
        <T x={206} y={212} s={15} a="start">20 mV</T>
        <T x={187} y={285} s={13} a="start">350 pA</T>
        <T x={135} y={305} s={15}>500 ms</T>

        {/* B */}
        <T x={332} y={152} s={20} r={-90}>Num Spikes</T>

        {/* C */}
        <T x={619.5} y={46} s={12}>-71</T>
        <T x={680} y={37.5} s={13}>ACSF</T>
        <T x={689.5} y={62.5} s={12} c={A_ORANGE}>Terf</T>
        <T x={740} y={37} s={15} a="start">5 mV</T>
        <T x={728} y={60} s={15} a="start">200 ms</T>
        <T x={600} y={199} s={20} r={-90}>Static Rin (MΩ)</T>

        {/* D */}
        <T x={94.5} y={388} s={18}>CCh</T>
        <T x={341.5} y={389} s={17}>+ Terf</T>
        <T x={68} y={576} s={13} a="end">mPFC</T>
        <T x={60} y={600} s={13}>-65</T>
        <T x={129} y={614} s={13} a="start">300 pA</T>
        <T x={441} y={537} s={15}>2 s</T>
        <T x={477} y={506} s={15} r={-90}>20 mV</T>

        {/* E */}
        <T x={644} y={353} s={16}>CCh</T>
        <line x1={667} y1={353} x2={688} y2={353} stroke={INK} strokeWidth={1.5} />
        <polygon points="686,348 697,353 686,358" fill={INK} />
        <T x={721} y={353} s={15}>+ Terf</T>
        <T x={595} y={487} s={19} r={-90}>Persistent Firing Prob</T>

        {/* F */}
        <T x={46.5} y={801} s={20} r={-90}>ΔRin (MΩ)</T>
        <T x={318.5} y={954} s={20}>Time (s)</T>
        <T x={138.6} y={705.6} s={17}>mPFC</T>
        <T x={172.5} y={780.5} s={17} c={BLUE}>CCh</T>
        <T x={170} y={850} s={17} c={D_ORANGE}>CCh</T>
        <T x={170.3} y={870} s={17} c={D_ORANGE}>+ Terf</T>
        <T x={487} y={889.5} s={12.5}>(N=4 expts)</T>

        {/* G */}
        <T x={601.5} y={814} s={19} r={-90}>Post-step ΔRin (MΩ)</T>

        {/* H, I */}
        <T x={77.5} y={1142} s={19} r={-90}>AP Threshold (mV)</T>
        <T x={466.5} y={1145} s={19} r={-90}>AP Half-Width (ms)</T>
      </svg>
    </div>
  );
}
